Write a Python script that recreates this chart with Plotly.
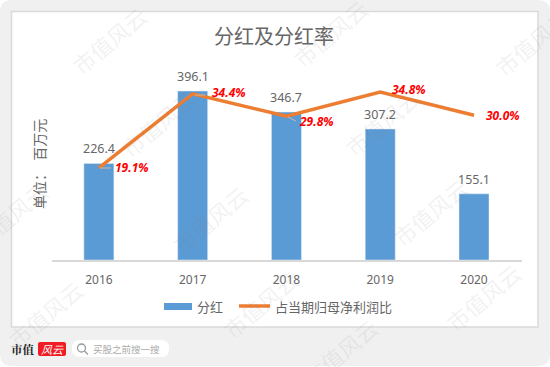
import plotly.graph_objects as go

years = ["2016", "2017", "2018", "2019", "2020"]
dividends = [226.4, 396.1, 346.7, 307.2, 155.1]
dividend_labels = ["226.4", "396.1", "346.7", "307.2", "155.1"]
ratios = [19.1, 34.4, 29.8, 34.8, 30.0]
ratio_labels = ["19.1%", "34.4%", "29.8%", "34.8%", "30.0%"]
label_shift_x = [33, 36, 30, 29, 29]
label_shift_y = [0, 1, -5, 2, 0]
series_names = ["分红", "占当期归母净利润比"]

W, H = 550, 367
L, R, T, B = 52, 28, 60, 107
PW, PH = W - L - R, H - T - B
CJK = "Noto Sans CJK SC"
LATIN = "Noto Sans, Noto Sans CJK SC"
GREY = "#666666"
BLUE = "#5b9bd5"
ORANGE = "#ed7d31"

fig = go.Figure()
fig.add_trace(go.Bar(
    x=years, y=dividends, name=series_names[0], width=0.32,
    marker=dict(color=BLUE),
))
fig.add_trace(go.Scatter(
    x=years, y=ratios, name=series_names[1], yaxis="y2", mode="lines",
    line=dict(color=ORANGE, width=3.5),
))

def px(x): return (x - L) / PW
def py(y): return (T + PH - y) / PH

def paper_rect(x0, y0, x1, y1, **kw):
    fig.add_shape(type="rect", xref="paper", yref="paper", x0=px(x0), x1=px(x1),
                  y0=py(y0), y1=py(y1), layer="below", **kw)

def rounded(x0, y0, x1, y1, r, fill):
    def P(x, y): return f"{px(x)},{py(y)}"
    path = (f"M {P(x0+r,y0)} L {P(x1-r,y0)} Q {P(x1,y0)} {P(x1,y0+r)} "
            f"L {P(x1,y1-r)} Q {P(x1,y1)} {P(x1-r,y1)} "
            f"L {P(x0+r,y1)} Q {P(x0,y1)} {P(x0,y1-r)} "
            f"L {P(x0,y0+r)} Q {P(x0,y0)} {P(x0+r,y0)} Z")
    fig.add_shape(type="path", xref="paper", yref="paper", path=path,
                  fillcolor=fill, line=dict(width=0), layer="below")

rounded(0, 0, 550, 366, 12, "#f0f0f0")
paper_rect(11.5, 11.5, 538, 327, fillcolor="white", line=dict(color="#d9d9d9", width=1.5))
rounded(72, 340, 169, 357, 8, "white")
rounded(38, 342, 66, 356, 2, "#f01c24")

# search icon
fig.add_shape(type="circle", xref="paper", yref="paper", x0=px(77.5), x1=px(85.5),
              y0=py(352), y1=py(344), line=dict(color="#999999", width=1.3))
fig.add_shape(type="line", xref="paper", yref="paper", x0=px(84.5), x1=px(88),
              y0=py(351), y1=py(354.5), line=dict(color="#999999", width=1.3))

# leader lines
for (a, b, c, d) in [(100, 168, 111, 168), (195, 95, 205, 95), (288, 117, 296, 121)]:
    fig.add_shape(type="line", xref="paper", yref="paper", x0=px(a), x1=px(c), y0=py(b), y1=py(d),
                  line=dict(color="#c9b8a8", width=1))

# legend swatches
paper_rect(164, 303, 192, 310, fillcolor=BLUE, line=dict(width=0))
fig.add_shape(type="line", xref="paper", yref="paper", x0=px(239), x1=px(270), y0=py(306), y1=py(306),
              line=dict(color=ORANGE, width=3.5))

# bar labels (x given as the category index)
for i, (v, t) in enumerate(zip(dividends, dividend_labels)):
    fig.add_annotation(x=i, y=v, xref="x", yref="y", text=t, showarrow=False, yshift=14.5,
                       font=dict(family=LATIN, size=12.5, color=GREY))

# ratio labels
for i, (v, t, dx, dy) in enumerate(zip(ratios, ratio_labels, label_shift_x, label_shift_y)):
    fig.add_annotation(x=i, y=v, xref="x", yref="y2", text=f"<b><i>{t}</i></b>", showarrow=False,
                       xshift=dx, yshift=dy, font=dict(family=LATIN, size=12, color="#ff0000"))

def txt(x, y, s, size, color=GREY, family=CJK, angle=0):
    fig.add_annotation(x=px(x), y=py(y), xref="paper", yref="paper", text=s, showarrow=False,
                       xanchor="center", yanchor="middle", textangle=angle,
                       font=dict(family=family, size=size, color=color))

txt(274, 35, "分红及分红率", 20)
txt(39, 164, "单位：  百万元", 14, angle=-90)
txt(209.5, 306, series_names[0], 13)
txt(333, 306, series_names[1], 13)
txt(23, 349, "<b>市值</b>", 11.5, color="#222222", family="Noto Serif CJK SC, Noto Sans CJK SC")
txt(52, 349, "<i>风云</i>", 11, color="white")
txt(126, 349, "买股之前搜一搜", 9.5, color="#aaaaaa")

# watermark
for cx, cy in [(109, 40), (158, 123), (330, 33), (382, 122), (532, 42), (10, 215), (210, 219),
               (45, 314), (260, 304), (430, 212), (483, 297), (340, 352)]:
    txt(cx, cy, "市值风云", 22, color="rgba(120,120,120,0.11)", angle=-40)

fig.update_layout(
    width=W, height=H, autosize=False,
    margin=dict(l=L, r=R, t=T, b=B),
    paper_bgcolor="white", plot_bgcolor="rgba(0,0,0,0)",
    showlegend=False,
    xaxis=dict(type="category", showgrid=False, ticks="", showline=True, linecolor="#d9d9d9", linewidth=1.5,
               tickfont=dict(family=LATIN, size=12, color=GREY), ticklabelstandoff=8),
    yaxis=dict(range=[0, 468.8], visible=False),
    yaxis2=dict(range=[0.09, 41.4], overlaying="y", side="right", visible=False),
)

fig.write_html("out.html", config=dict(displayModeBar=False),
               post_script="document.body.style.margin='0';document.documentElement.style.overflow='hidden';")
